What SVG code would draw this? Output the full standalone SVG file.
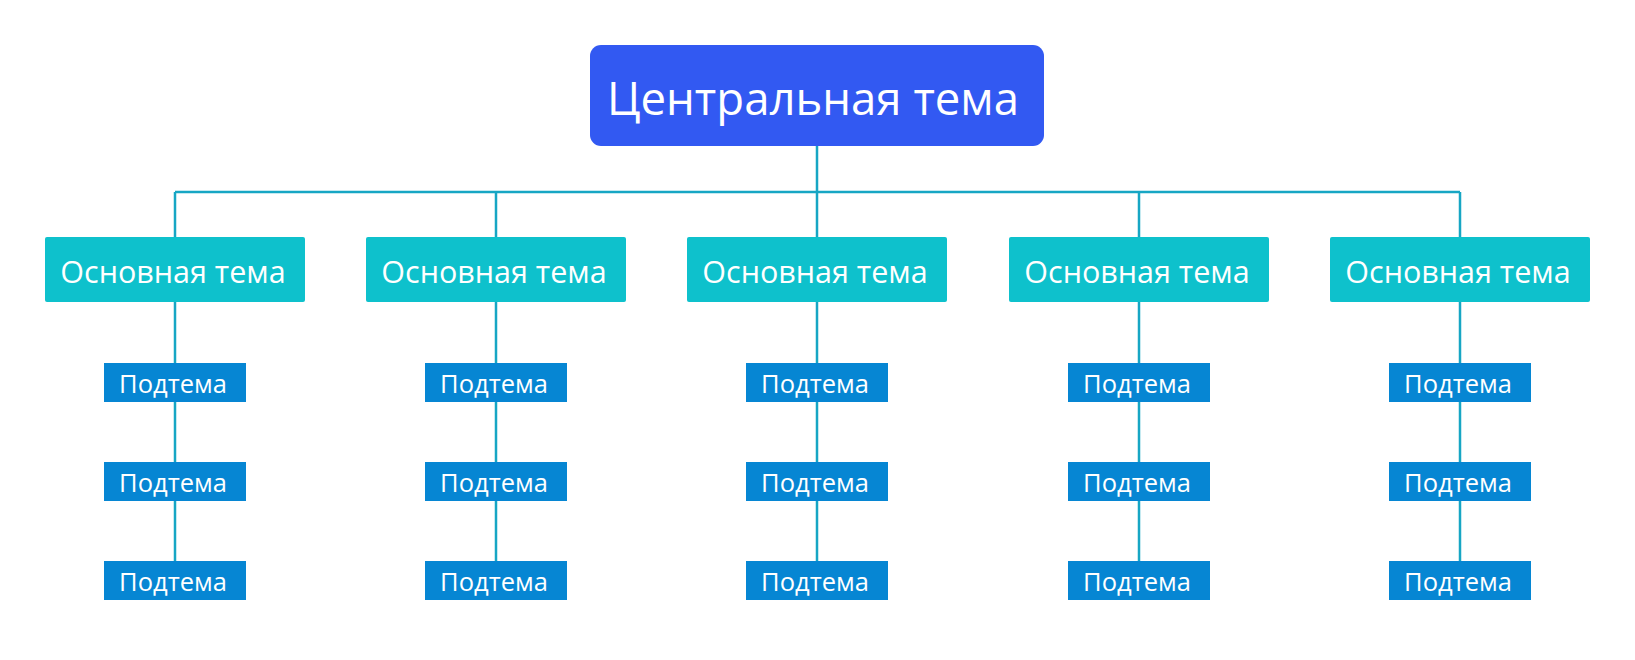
<svg xmlns="http://www.w3.org/2000/svg" width="1635" height="660" viewBox="0 0 1635 660">
<style>
text{font-family:"Open Sans","Noto Sans",sans-serif;fill:#fff;text-anchor:middle;dominant-baseline:central}
.m rect{fill:#0EC1CC}
.m text{font-size:30.5px}
.s rect{fill:#0686D3}
.s text{font-size:25.5px}
.c path{stroke:#17A6C4;stroke-width:2.5;fill:none}
</style>
<rect width="1635" height="660" fill="#fff"/>
<g class="c" id="connectors">
<path d="M817 146V237M175 192H1460M175 192V237M496 192V237M1139 192V237M1460 192V237"/>
<path d="M175 302V561M496 302V561M817 302V561M1139 302V561M1460 302V561"/>
</g>
<g id="central"><rect x="590" y="45" width="454" height="101" rx="11" fill="#3259F2"/><text x="813" y="97" style="font-size:45.5px">Центральная тема</text></g>
<g id="m1" class="m"><rect x="45" y="237" width="260" height="65" rx="2"/><text x="173" y="271">Основная тема</text></g>
<g id="m2" class="m"><rect x="366" y="237" width="260" height="65" rx="2"/><text x="494" y="271">Основная тема</text></g>
<g id="m3" class="m"><rect x="687" y="237" width="260" height="65" rx="2"/><text x="815" y="271">Основная тема</text></g>
<g id="m4" class="m"><rect x="1009" y="237" width="260" height="65" rx="2"/><text x="1137" y="271">Основная тема</text></g>
<g id="m5" class="m"><rect x="1330" y="237" width="260" height="65" rx="2"/><text x="1458" y="271">Основная тема</text></g>
<g id="s11" class="s"><rect x="104" y="363" width="142" height="39"/><text x="173" y="383">Подтема</text></g>
<g id="s12" class="s"><rect x="104" y="462" width="142" height="39"/><text x="173" y="482">Подтема</text></g>
<g id="s13" class="s"><rect x="104" y="561" width="142" height="39"/><text x="173" y="581">Подтема</text></g>
<g id="s21" class="s"><rect x="425" y="363" width="142" height="39"/><text x="494" y="383">Подтема</text></g>
<g id="s22" class="s"><rect x="425" y="462" width="142" height="39"/><text x="494" y="482">Подтема</text></g>
<g id="s23" class="s"><rect x="425" y="561" width="142" height="39"/><text x="494" y="581">Подтема</text></g>
<g id="s31" class="s"><rect x="746" y="363" width="142" height="39"/><text x="815" y="383">Подтема</text></g>
<g id="s32" class="s"><rect x="746" y="462" width="142" height="39"/><text x="815" y="482">Подтема</text></g>
<g id="s33" class="s"><rect x="746" y="561" width="142" height="39"/><text x="815" y="581">Подтема</text></g>
<g id="s41" class="s"><rect x="1068" y="363" width="142" height="39"/><text x="1137" y="383">Подтема</text></g>
<g id="s42" class="s"><rect x="1068" y="462" width="142" height="39"/><text x="1137" y="482">Подтема</text></g>
<g id="s43" class="s"><rect x="1068" y="561" width="142" height="39"/><text x="1137" y="581">Подтема</text></g>
<g id="s51" class="s"><rect x="1389" y="363" width="142" height="39"/><text x="1458" y="383">Подтема</text></g>
<g id="s52" class="s"><rect x="1389" y="462" width="142" height="39"/><text x="1458" y="482">Подтема</text></g>
<g id="s53" class="s"><rect x="1389" y="561" width="142" height="39"/><text x="1458" y="581">Подтема</text></g>
</svg>
